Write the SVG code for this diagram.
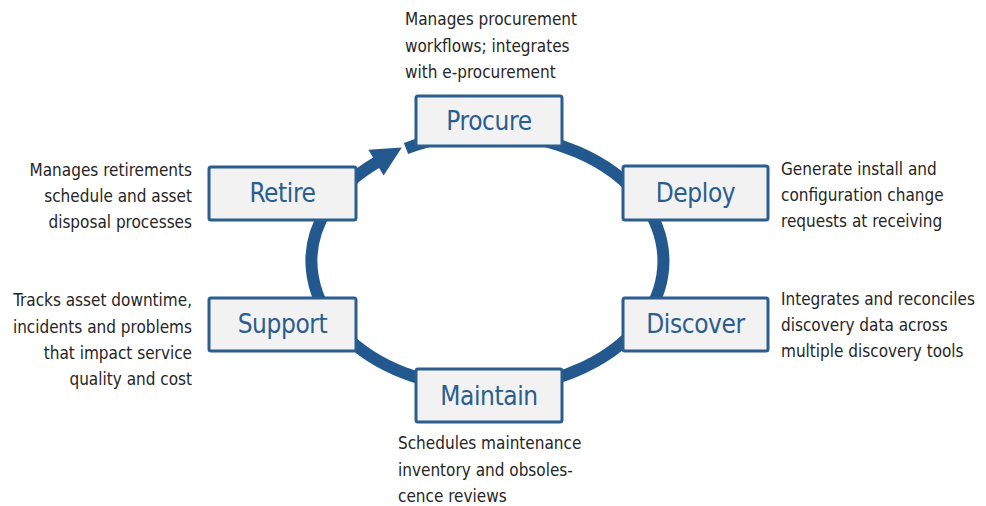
<svg xmlns="http://www.w3.org/2000/svg" width="986" height="506" viewBox="0 0 986 506">
<style>
.box{fill:#f2f2f2;stroke:#2b5d8e;stroke-width:3}
.lbl{font-family:"DejaVu Sans Condensed","Liberation Sans Narrow","Liberation Sans",sans-serif;font-stretch:condensed;font-size:26px;letter-spacing:-0.4px;fill:#2b5d8e;text-anchor:middle}
.note{font-family:"DejaVu Sans Condensed","Liberation Sans Narrow","Liberation Sans",sans-serif;font-stretch:condensed;font-size:17px;fill:#262626}
.r{text-anchor:end}
.ring{fill:none;stroke:#22588d;stroke-width:12}
</style>
<rect width="986" height="506" fill="#ffffff"/>
<g id="connectors">
<path class="ring" d="M406,148.5 A176,127 0 1 1 377,162.2"/>
<polygon points="401.8,147.4 368.4,149.8 383.6,175.6" fill="#22588d"/>
</g>
<g id="procure"><rect class="box" x="416" y="96" width="146" height="50" rx="2"/><text class="lbl" x="489" y="130">Procure</text></g>
<g id="deploy"><rect class="box" x="623" y="166" width="145" height="54" rx="2"/><text class="lbl" x="695.5" y="202">Deploy</text></g>
<g id="discover"><rect class="box" x="623" y="298" width="145" height="53" rx="2"/><text class="lbl" x="695.5" y="333">Discover</text></g>
<g id="maintain"><rect class="box" x="416" y="369" width="146" height="53" rx="2"/><text class="lbl" x="489" y="405">Maintain</text></g>
<g id="support"><rect class="box" x="209" y="298" width="147" height="53" rx="2"/><text class="lbl" x="282.5" y="333">Support</text></g>
<g id="retire"><rect class="box" x="209" y="167" width="147" height="53" rx="2"/><text class="lbl" x="282.5" y="202">Retire</text></g>
<g id="notes">
<text class="note" x="405" y="25">Manages procurement</text>
<text class="note" x="405" y="51.5">workflows; integrates</text>
<text class="note" x="405" y="78">with e-procurement</text>
<text class="note r" x="192" y="176">Manages retirements</text>
<text class="note r" x="192" y="202">schedule and asset</text>
<text class="note r" x="192" y="228">disposal processes</text>
<text class="note r" x="192" y="306">Tracks asset downtime,</text>
<text class="note r" x="192" y="333">incidents and problems</text>
<text class="note r" x="192" y="359">that impact service </text>
<text class="note r" x="192" y="385">quality and cost</text>
<text class="note" x="781" y="175">Generate install and</text>
<text class="note" x="781" y="201">configuration change</text>
<text class="note" x="781" y="227">requests at receiving</text>
<text class="note" x="781" y="305">Integrates and reconciles</text>
<text class="note" x="781" y="331">discovery data across</text>
<text class="note" x="781" y="357">multiple discovery tools</text>
<text class="note" x="398" y="449">Schedules maintenance</text>
<text class="note" x="398" y="476">inventory and obsoles-</text>
<text class="note" x="398" y="502">cence reviews</text>
</g>
</svg>
